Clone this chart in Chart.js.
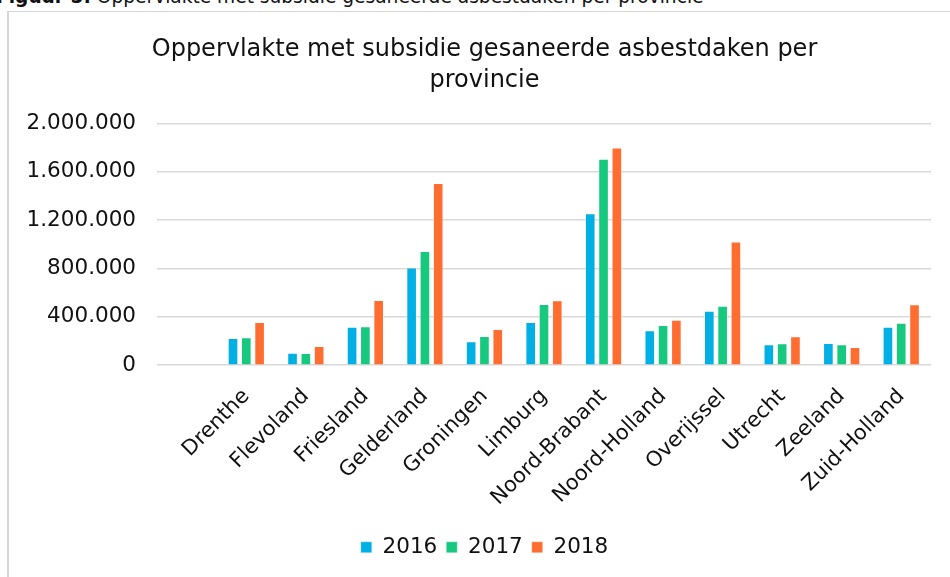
<!DOCTYPE html>
<html>
<head>
<meta charset="utf-8">
<script src="https://cdn.jsdelivr.net/npm/chart.js@4"></script>
<style>
  html, body { margin:0; padding:0; width:950px; height:577px; overflow:hidden; background:#fff; }
  .caption {
    position:absolute; left:-4px; top:-14px; white-space:nowrap;
    font-family:"DejaVu Sans", Verdana, sans-serif; font-size:18.6px; color:#111;
  }
  .frame {
    position:absolute; left:7px; top:11px; width:960px; height:600px;
    border-top:1px solid #d6d6d6; border-left:2px solid #d6d6d6; box-sizing:border-box;
  }
  .chart-wrap { position:absolute; left:9px; top:12px; width:950px; height:556px; }
</style>
</head>
<body>
<div class="caption"><b>Figuur 5:</b> Oppervlakte met subsidie gesaneerde asbestdaken per provincie</div>
<div class="frame"></div>
<div class="chart-wrap"><canvas id="chart"></canvas></div>

<script>
// ── Data ─────────────────────────────────────────────
// first category is an empty row in the source sheet
const provinces = ['', 'Drenthe', 'Flevoland', 'Friesland', 'Gelderland', 'Groningen', 'Limburg',
  'Noord-Brabant', 'Noord-Holland', 'Overijssel', 'Utrecht', 'Zeeland', 'Zuid-Holland'];
const years = ['2016', '2017', '2018'];
const values2016 = [null, 225000, 103000, 317000, 808000, 197000, 356000, 1256000, 289000, 450000, 172000, 183000, 317000];
const values2017 = [null, 230000, 100000, 322000, 944000, 242000, 506000, 1708000, 333000, 492000, 181000, 172000, 350000];
const values2018 = [null, 358000, 158000, 539000, 1506000, 300000, 536000, 1800000, 375000, 1022000, 239000, 150000, 503000];
const yTicks = [0, 400000, 800000, 1200000, 1600000, 2000000];
const colors = ['#00b0e4', '#17c97e', '#ff6d31'];

const font = 'DejaVu Sans';

function fmt(v) {
  return String(v).replace(/\B(?=(\d{3})+(?!\d))/g, '.');
}

const series = [values2016, values2017, values2018];

// y labels stick out past the left padding; widen their clip area
const unclipY = {
  id: 'unclipY',
  afterLayout(chart) { chart.scales.y.left = 0; }
};

new Chart(document.getElementById('chart'), {
  type: 'bar',
  data: {
    labels: provinces,
    datasets: years.map((y, i) => ({
      label: y,
      data: series[i],
      backgroundColor: colors[i],
      borderColor: 'rgba(255,255,255,0.35)',
      borderWidth: 1,
      categoryPercentage: 0.67,
      barPercentage: 0.8,
    }))
  },
  options: {
    responsive: true,
    maintainAspectRatio: false,
    animation: false,
    layout: { padding: { left: 29, right: 28, top: 0, bottom: 0 } },
    plugins: {
      title: {
        display: true,
        text: ['Oppervlakte met subsidie gesaneerde asbestdaken per', 'provincie'],
        color: '#111',
        font: { family: font, size: 24, weight: 'normal', lineHeight: 1.3 },
        padding: { top: 22, bottom: 27 },
      },
      legend: {
        position: 'bottom',
        labels: {
          color: '#111',
          font: { family: font, size: 21.5 },
          boxWidth: 11, boxHeight: 11,
          padding: 9,
        }
      },
      tooltip: { enabled: false },
    },
    scales: {
      x: {
        grid: { display: false, drawTicks: false },
        border: { display: false },
        afterFit: axis => { axis.height -= 2; },
        ticks: {
          color: '#111',
          font: { family: font, size: 21 },
          minRotation: 45, maxRotation: 45,
          autoSkip: false,
          padding: 19,
        }
      },
      y: {
        min: 0, max: 2000000,
        afterBuildTicks: axis => { axis.ticks = yTicks.map(v => ({ value: v })); },
        afterFit: axis => { axis.width = 119; },
        grid: { color: '#d9d9d9', lineWidth: 1.5, drawTicks: false },
        border: { display: false },
        ticks: {
          color: '#111',
          font: { family: font, size: 21.5 },
          padding: 21,
          callback: v => fmt(v),
        }
      }
    }
  },
  plugins: [unclipY]
});
</script>
</body>
</html>
